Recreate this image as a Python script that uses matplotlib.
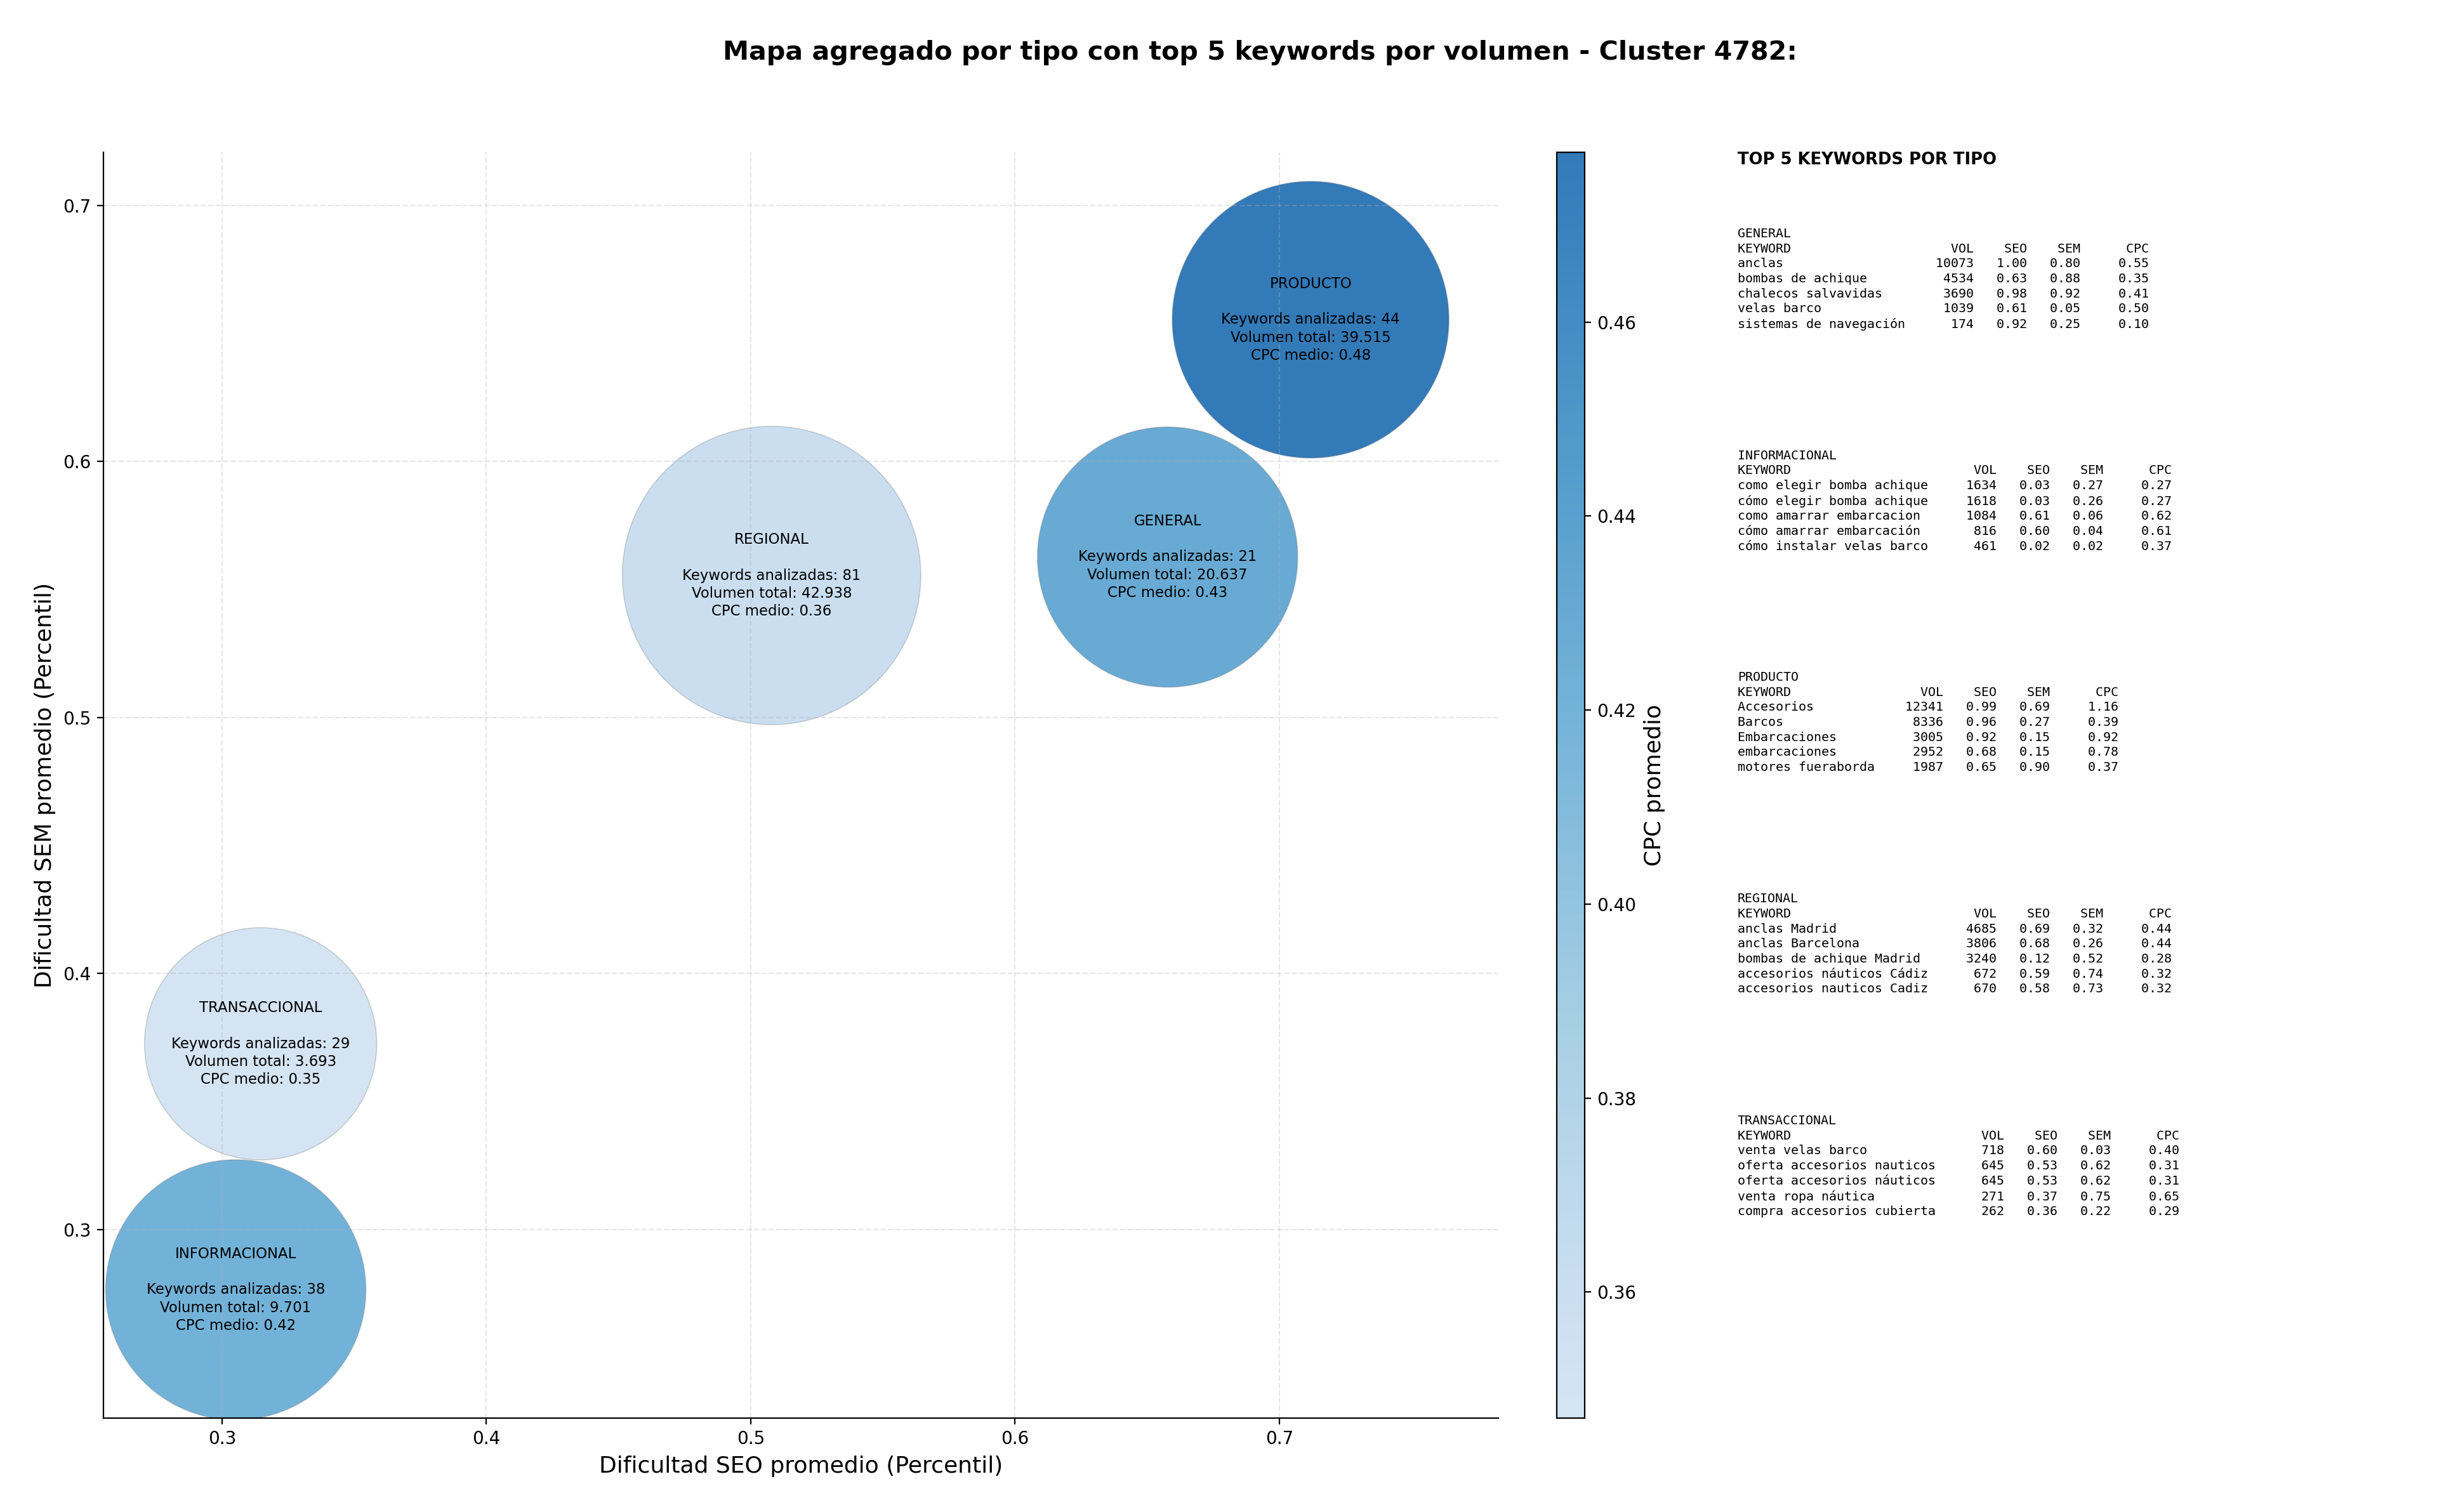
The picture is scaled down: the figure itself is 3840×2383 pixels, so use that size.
import numpy as np
import matplotlib
matplotlib.use("Agg")
import matplotlib.pyplot as plt
from matplotlib.colors import ListedColormap

# aggregated values per search-intent type
tipos = ["GENERAL", "INFORMACIONAL", "PRODUCTO", "REGIONAL", "TRANSACCIONAL"]
seo_medio = [0.6577, 0.3052, 0.7118, 0.5079, 0.3146]
sem_medio = [0.5627, 0.2765, 0.6554, 0.5555, 0.3726]
cpc_medio = [0.43, 0.42, 0.4775, 0.36, 0.347]
n_keywords = [21, 38, 44, 81, 29]
volumen_total = [20637, 9701, 39515, 42938, 3693]
bubble_area = [21800, 21800, 24650, 28650, 17350]  # marker area (pt^2) as drawn

# top 5 keywords per type: (keyword, vol, seo, sem, cpc)
top_general = [
    ("anclas", 10073, 1.00, 0.80, 0.55),
    ("bombas de achique", 4534, 0.63, 0.88, 0.35),
    ("chalecos salvavidas", 3690, 0.98, 0.92, 0.41),
    ("velas barco", 1039, 0.61, 0.05, 0.50),
    ("sistemas de navegación", 174, 0.92, 0.25, 0.10),
]
top_informacional = [
    ("como elegir bomba achique", 1634, 0.03, 0.27, 0.27),
    ("cómo elegir bomba achique", 1618, 0.03, 0.26, 0.27),
    ("como amarrar embarcacion", 1084, 0.61, 0.06, 0.62),
    ("cómo amarrar embarcación", 816, 0.60, 0.04, 0.61),
    ("cómo instalar velas barco", 461, 0.02, 0.02, 0.37),
]
top_producto = [
    ("Accesorios", 12341, 0.99, 0.69, 1.16),
    ("Barcos", 8336, 0.96, 0.27, 0.39),
    ("Embarcaciones", 3005, 0.92, 0.15, 0.92),
    ("embarcaciones", 2952, 0.68, 0.15, 0.78),
    ("motores fueraborda", 1987, 0.65, 0.90, 0.37),
]
top_regional = [
    ("anclas Madrid", 4685, 0.69, 0.32, 0.44),
    ("anclas Barcelona", 3806, 0.68, 0.26, 0.44),
    ("bombas de achique Madrid", 3240, 0.12, 0.52, 0.28),
    ("accesorios náuticos Cádiz", 672, 0.59, 0.74, 0.32),
    ("accesorios nauticos Cadiz", 670, 0.58, 0.73, 0.32),
]
top_transaccional = [
    ("venta velas barco", 718, 0.60, 0.03, 0.40),
    ("oferta accesorios nauticos", 645, 0.53, 0.62, 0.31),
    ("oferta accesorios náuticos", 645, 0.53, 0.62, 0.31),
    ("venta ropa náutica", 271, 0.37, 0.75, 0.65),
    ("compra accesorios cubierta", 262, 0.36, 0.22, 0.29),
]
tops = [top_general, top_informacional, top_producto, top_regional, top_transaccional]


def fmt_miles(v: int) -> str:
    return f"{v:,}".replace(",", ".")


def tabla(tipo: str, rows) -> str:
    w = max(len(r[0]) for r in rows)
    lines = [tipo, f"{'KEYWORD':<{w}} {'VOL':>8} {'SEO':>6} {'SEM':>6} {'CPC':>8}"]
    for kw, vol, seo, sem, cpc in rows:
        lines.append(f"{kw:<{w}} {vol:>8} {seo:>6.2f} {sem:>6.2f} {cpc:>8.2f}")
    return "\n".join(lines)


# truncated Blues, lightened slightly (as if drawn at 90% opacity on white)
blues = plt.cm.Blues(np.linspace(0.2, 0.77, 256))
blues[:, :3] = blues[:, :3] * 0.9 + 0.1
cmap = ListedColormap(blues)

fig = plt.figure(figsize=(19.2, 11.915), dpi=200)
ax = fig.add_axes([0.0424, 0.0621, 0.5724, 0.8372])
cax = fig.add_axes([0.6388, 0.0621, 0.01146, 0.8372])

sc = ax.scatter(seo_medio, sem_medio, s=bubble_area, c=cpc_medio, cmap=cmap,
                edgecolors=(0.45, 0.45, 0.45, 0.3), linewidths=0.6)

for tipo, x, y, n, vol, cpc in zip(tipos, seo_medio, sem_medio, n_keywords,
                                   volumen_total, cpc_medio):
    ax.text(x, y,
            f"{tipo}\n\nKeywords analizadas: {n}\nVolumen total: {fmt_miles(vol)}\nCPC medio: {cpc:.2f}",
            ha="center", va="center", fontsize=8.2, linespacing=1.3)

ax.set_xlim(0.2551, 0.7828)
ax.set_ylim(0.2264, 0.7208)
ax.grid(True, linestyle="--", alpha=0.3)
ax.spines["top"].set_visible(False)
ax.spines["right"].set_visible(False)
ax.set_xlabel("Dificultad SEO promedio (Percentil)", fontsize=13)
ax.set_ylabel("Dificultad SEM promedio (Percentil)", fontsize=13)

cbar = fig.colorbar(sc, cax=cax)
cbar.set_label("CPC promedio", fontsize=13)

fig.text(0.517, 0.965, "Mapa agregado por tipo con top 5 keywords por volumen - Cluster 4782:",
         ha="center", va="center", fontsize=14.85, fontweight="bold")

# side panel with the top keywords
fig.text(0.7130, 0.8995, "TOP 5 KEYWORDS POR TIPO", fontsize=9.3, fontweight="bold", va="top")
for i, (tipo, rows) in enumerate(zip(tipos, tops)):
    y_px = 359 + i * 349.5
    fig.text(0.7130, 1 - y_px / 2383, tabla(tipo, rows), family="DejaVu Sans Mono",
             fontsize=7.2, linespacing=1.31, va="top", ha="left")

fig.savefig("out.png", dpi=200)
